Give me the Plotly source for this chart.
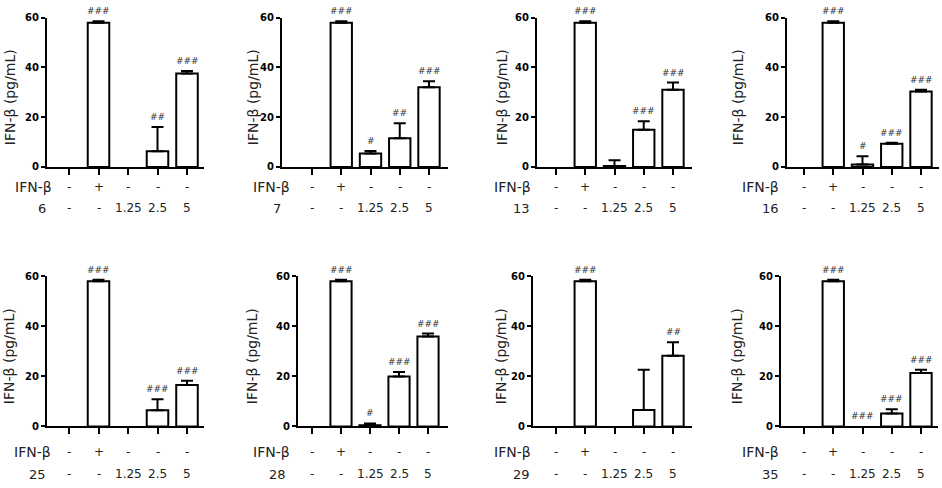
import plotly.graph_objects as go

# ---------------- data ----------------
compounds = ["6", "7", "13", "16", "25", "28", "29", "35"]
ifn_labels = ["-", "+", "-", "-", "-"]
dose_labels = ["-", "-", "1.25", "2.5", "5"]
y_ticks = [0, 20, 40, 60]

mean_c6 = [0, 58, 0, 6.3, 37.6]
err_c6 = [0, 0.6, 0, 9.8, 1.0]
sig_c6 = ["", "###", "", "##", "###"]

mean_c7 = [0, 58, 5.4, 11.5, 32.0]
err_c7 = [0, 0.6, 1.0, 6.1, 2.4]
sig_c7 = ["", "###", "#", "##", "###"]

mean_c13 = [0, 58, 0.4, 15.0, 31.0]
err_c13 = [0, 0.6, 2.3, 3.4, 2.9]
sig_c13 = ["", "###", "", "###", "###"]

mean_c16 = [0, 58, 1.0, 9.3, 30.3]
err_c16 = [0, 0.6, 3.3, 0.4, 0.7]
sig_c16 = ["", "###", "#", "###", "###"]

mean_c25 = [0, 58, 0, 6.5, 16.5]
err_c25 = [0, 0.6, 0, 4.3, 1.7]
sig_c25 = ["", "###", "", "###", "###"]

mean_c28 = [0, 58, 0.5, 19.9, 35.9]
err_c28 = [0, 0.6, 0.7, 1.8, 1.2]
sig_c28 = ["", "###", "#", "###", "###"]

mean_c29 = [0, 58, 0, 6.6, 28.2]
err_c29 = [0, 0.6, 0, 16.0, 5.4]
sig_c29 = ["", "###", "", "", "##"]

mean_c35 = [0, 58, 0, 5.2, 21.3]
err_c35 = [0, 0.6, 0, 1.7, 1.3]
sig_c35 = ["", "###", "###", "###", "###"]

means = [mean_c6, mean_c7, mean_c13, mean_c16, mean_c25, mean_c28, mean_c29, mean_c35]
errs = [err_c6, err_c7, err_c13, err_c16, err_c25, err_c28, err_c29, err_c35]
sigs = [sig_c6, sig_c7, sig_c13, sig_c16, sig_c25, sig_c28, sig_c29, sig_c35]

# ---------------- layout geometry (pixels) ----------------
W, H = 942, 488
# (axis left, first category, spacing, axis right, row)
geom = [
    (47, 69, 29.5, 204, 0),
    (282, 312, 29.25, 448, 0),
    (537, 556, 29.25, 692, 0),
    (787, 804, 29.25, 939, 0),
    (47, 69, 29.5, 204, 1),
    (298, 312, 29.0, 448, 1),
    (533, 556, 29.25, 692, 1),
    (781, 804, 29.25, 938, 1),
]
rows_y = [(12, 165), (277, 431)]          # top (60) and bottom (0) pixel
label_rows = [(186, 207.5), (457.5, 480)]  # IFN-beta row, compound row
# right edges of row labels (IFN-beta, compound)
label_x = [(54, 48), (292, 283), (533, 532), (781, 781),
           (53, 48), (292, 288), (533, 532), (781, 781)]
title_x = [10, 253, 502, 738, 9, 252, 501, 737]

FONT = "DejaVu Sans"
fig = go.Figure()
annotations = []

for i in range(8):
    ax_l, c0, sp, ax_r, row = geom[i]
    top_px, bot_px = rows_y[row]
    xa = "x" if i == 0 else f"x{i+1}"
    ya = "y" if i == 0 else f"y{i+1}"
    xkey = "xaxis" if i == 0 else f"xaxis{i+1}"
    ykey = "yaxis" if i == 0 else f"yaxis{i+1}"
    cats = list(range(5))
    line_w = [2 if v > 0 else 0 for v in means[i]]

    fig.add_trace(go.Bar(
        x=cats, y=means[i], xaxis=xa, yaxis=ya, width=0.73,
        marker=dict(color="white", line=dict(color="black", width=line_w)),
        hoverinfo="skip",
    ))

    # upward-only error bars (only where an error exists)
    ek = [k for k in cats if errs[i][k] > 0]
    fig.add_trace(go.Scatter(
        x=ek, y=[means[i][k] for k in ek], xaxis=xa, yaxis=ya,
        mode="markers", marker=dict(size=1, color="rgba(0,0,0,0)"),
        error_y=dict(type="data", symmetric=False,
                     array=[errs[i][k] for k in ek],
                     arrayminus=[0] * len(ek),
                     color="black", thickness=2, width=6),
        hoverinfo="skip",
    ))

    fig.layout[xkey] = dict(
        domain=[ax_l / W, ax_r / W],
        range=[(ax_l - c0) / sp, (ax_r - c0) / sp],
        anchor=ya, showgrid=False, zeroline=False,
        showline=True, linecolor="black", linewidth=2,
        ticks="outside", ticklen=6, tickwidth=2, tickcolor="black",
        tickvals=cats, showticklabels=False, fixedrange=True,
    )
    fig.layout[ykey] = dict(
        domain=[1 - bot_px / H, 1 - top_px / H],
        range=[0, 60], anchor=xa, showgrid=False, zeroline=False,
        showline=True, linecolor="black", linewidth=2,
        ticks="outside", ticklen=4, tickwidth=2, tickcolor="black",
        tickvals=y_ticks,
        tickfont=dict(family=FONT, size=10, color="black", weight="bold"),
        fixedrange=True,
    )

    # significance marks
    for k in range(5):
        if sigs[i][k]:
            annotations.append(dict(
                x=k, y=means[i][k] + errs[i][k], xref=xa, yref=ya,
                text=sigs[i][k], showarrow=False, yanchor="bottom", yshift=3,
                font=dict(family=FONT, size=9, color="#333333"),
            ))

    # category rows
    r1, r2 = label_rows[row]
    for k in range(5):
        annotations.append(dict(
            x=k, y=1 - r1 / H, xref=xa, yref="paper", text=ifn_labels[k],
            showarrow=False, yanchor="middle",
            font=dict(family=FONT, size=12, color="#222222")))
        annotations.append(dict(
            x=k, y=1 - r2 / H, xref=xa, yref="paper", text=dose_labels[k],
            showarrow=False, yanchor="middle",
            font=dict(family=FONT, size=12, color="#222222")))
    lx1, lx2 = label_x[i]
    annotations.append(dict(
        x=lx1 / W, y=1 - r1 / H, xref="paper", yref="paper", text="IFN-β",
        showarrow=False, xanchor="right", yanchor="middle",
        font=dict(family=FONT, size=14, color="#222222")))
    annotations.append(dict(
        x=lx2 / W, y=1 - r2 / H, xref="paper", yref="paper", text=compounds[i],
        showarrow=False, xanchor="right", yanchor="middle",
        font=dict(family=FONT, size=13, color="#222222")))

    # y title
    annotations.append(dict(
        x=title_x[i] / W, y=1 - ((top_px + bot_px) / 2 + 5) / H,
        xref="paper", yref="paper", text="IFN-β (pg/mL)", textangle=-90,
        showarrow=False, xanchor="center", yanchor="middle",
        font=dict(family=FONT, size=14, color="#222222")))

fig.update_layout(
    width=W, height=H, margin=dict(l=0, r=0, t=0, b=0),
    paper_bgcolor="white", plot_bgcolor="white", showlegend=False,
    annotations=annotations, bargap=0,
)

fig.write_html(
    "out.html",
    config={"displayModeBar": False, "staticPlot": True},
    post_script="document.body.style.margin='0';document.body.style.overflow='hidden';",
)
